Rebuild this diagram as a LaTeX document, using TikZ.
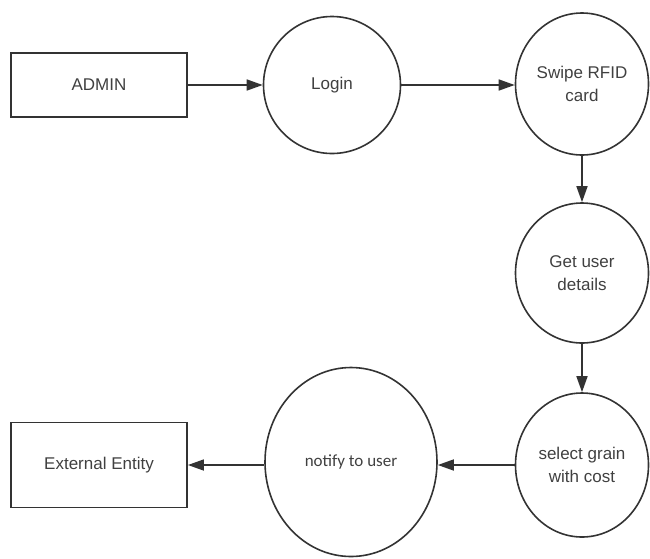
\documentclass[tikz,border=0pt]{standalone}
\usepackage{fontspec}
\setmainfont{Liberation Sans}
\newfontfamily\notefont{Carlito}
\usetikzlibrary{arrows.meta,shapes.geometric}

\begin{document}
\begin{tikzpicture}[x=1pt,y=1pt,->,>={Triangle[length=16pt,width=11pt]},line width=1.6pt,draw=black!80,
	entity/.style={rectangle,draw=black!80,line width=1.8pt,minimum width=176pt,inner sep=0pt,text=black!75,font=\fontsize{17}{21}\selectfont},
	process/.style={ellipse,draw=black!80,line width=1.6pt,inner sep=0pt,align=center,text=black!75,font=\fontsize{17}{23}\selectfont}]

	\useasboundingbox (0,0) rectangle (650,-558);

	\node (admin)	at	(99,-85) [entity,minimum height=64pt] {ADMIN};
	\node (login)	at	(332,-85) [process,minimum width=137pt,minimum height=137pt] {Login};
	\node (swipe)	at	(582,-84) [process,minimum width=133pt,minimum height=142pt] {Swipe RFID\\card};
	\node (details)	at	(582,-273) [process,minimum width=133pt,minimum height=140pt] {Get user\\details};
	\node (grain)	at	(582,-465) [process,minimum width=133pt,minimum height=144pt] {select grain\\with cost};
	\node (notify)	at	(351,-462) [process,minimum width=172pt,minimum height=189pt,font=\notefont\fontsize{17}{20}\selectfont] {notify to user};
	\node (extern)	at	(99,-465) [entity,minimum height=85pt] {External Entity};

	\draw (admin) -- (login);
	\draw (login.east) -- (login.east -| swipe.west);
	\draw (swipe) -- (details);
	\draw (details) -- (grain);
	\draw (grain.west) -- (grain.west -| notify.east);
	\draw (notify.west |- extern.east) -- (extern.east);

\end{tikzpicture}
\end{document}
